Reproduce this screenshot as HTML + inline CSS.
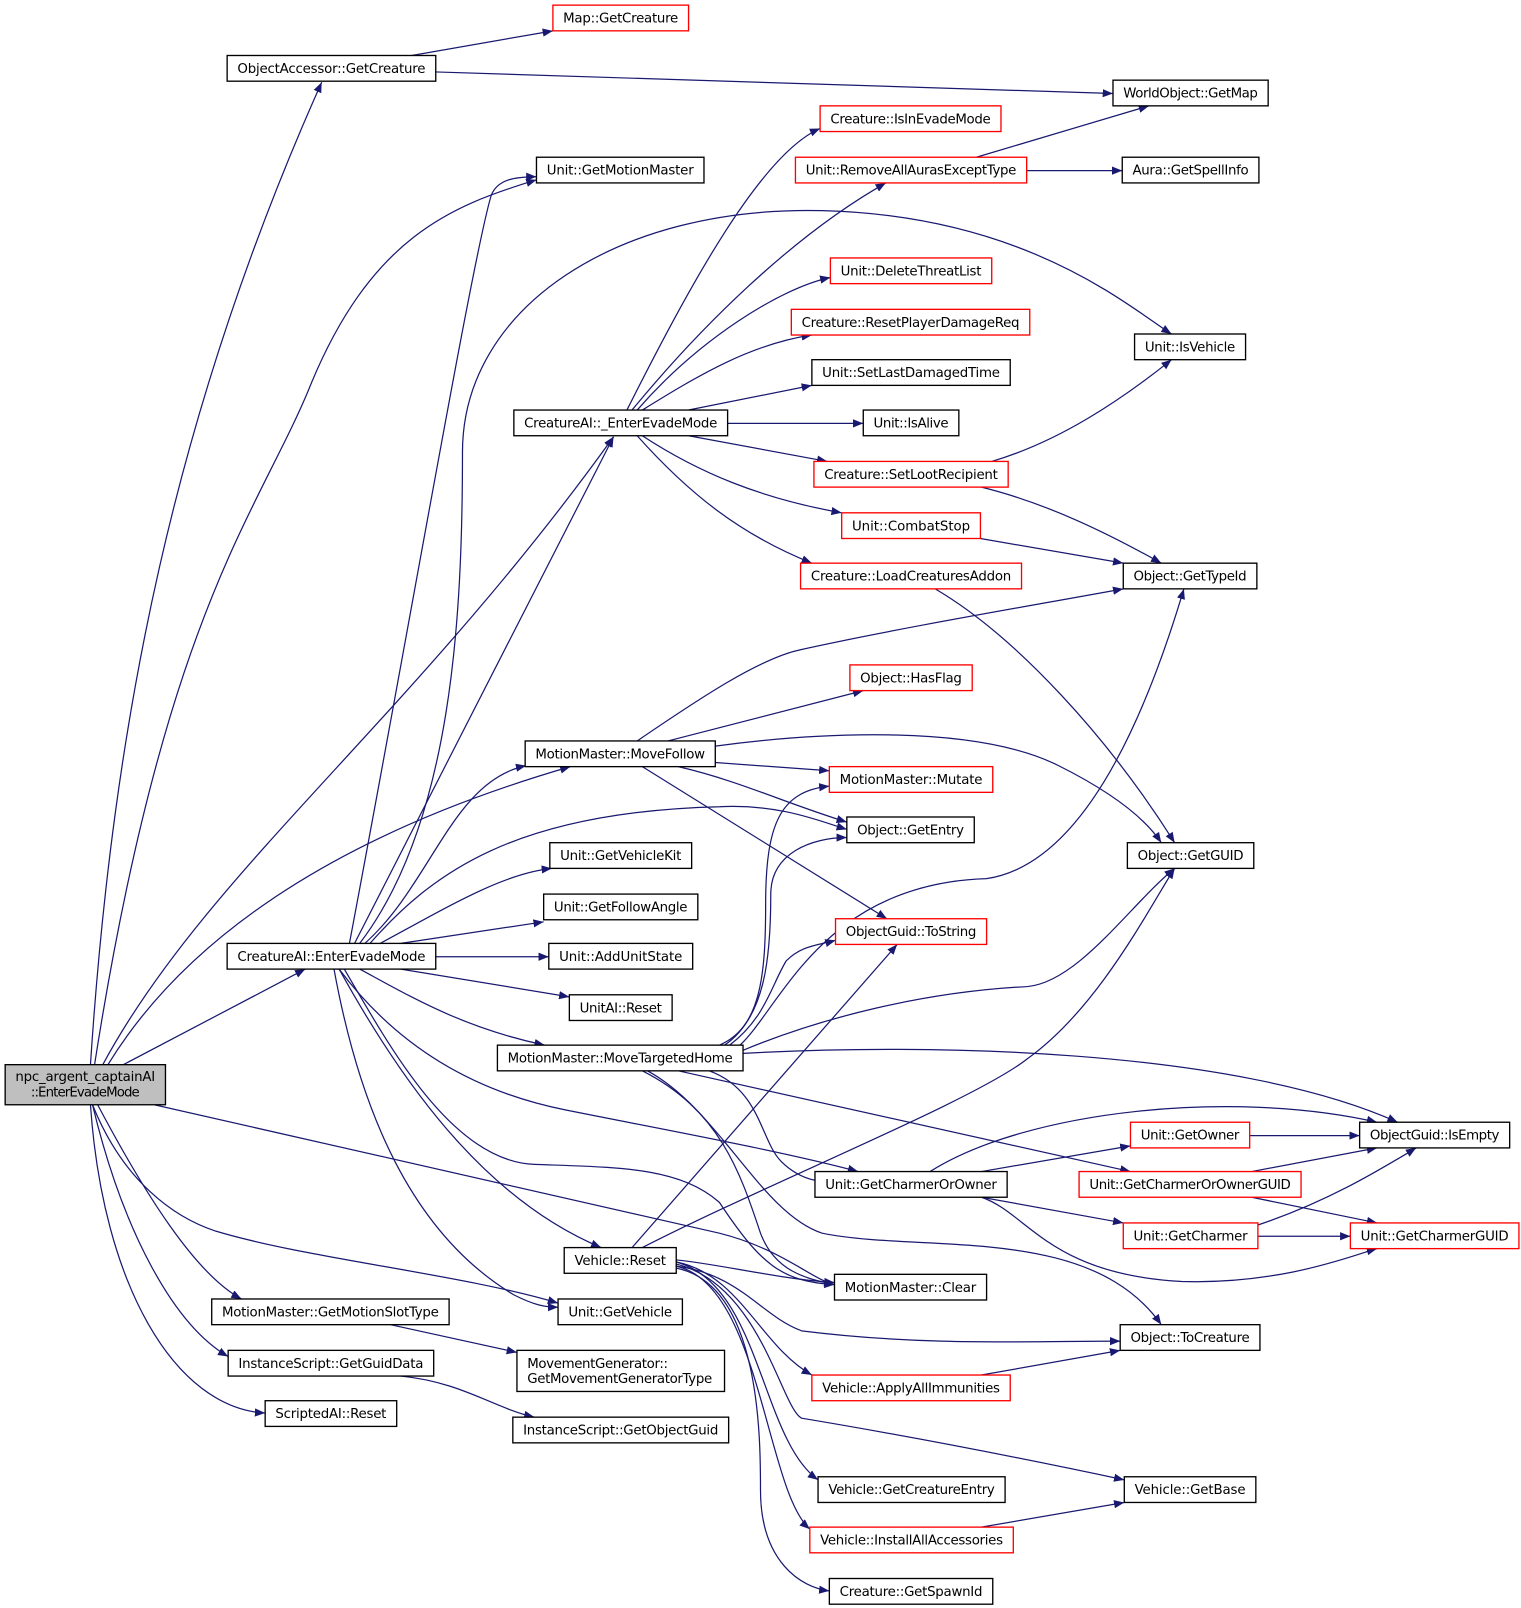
<!DOCTYPE html>
<html><head><meta charset="utf-8"><style>html,body{margin:0;padding:0;background:#fff}svg{display:block}</style></head>
<body>
<svg width="1521" height="1608" viewBox="0 0 1480 1564.7" xmlns="http://www.w3.org/2000/svg" font-family="'DejaVu Sans','Liberation Sans',sans-serif" font-size="13">
<defs><marker id="a" viewBox="0 0 10 10" refX="10" refY="5" markerWidth="10" markerHeight="10" markerUnits="userSpaceOnUse" orient="auto"><path d="M0,1 L10,5 L0,9 z" fill="#191970"/></marker></defs>
<g fill="none" stroke="#191970" stroke-width="1.2" marker-end="url(#a)">
<path d="M395,55 L538,30"/>
<path d="M424,70 L1083,91"/>
<path d="M88,1036 C110,700 170,400 313,80"/>
<path d="M92,1036 C160,600 250,500 300,380 C360,230 440,200 522,175"/>
<path d="M100,1036 C200,850 400,700 597,425"/>
<path d="M105,1036 C170,930 300,820 555,746"/>
<path d="M120,1036 L297,943"/>
<path d="M150,1075 L700,1200 C760,1215 790,1245 812,1250"/>
<path d="M90,1075 C120,1150 170,1185 210,1198 C300,1225 450,1240 543,1268"/>
<path d="M95,1075 C140,1160 190,1240 235,1264"/>
<path d="M90,1075 C120,1200 170,1290 222,1320"/>
<path d="M88,1075 C100,1250 170,1370 258,1375"/>
<path d="M340,918 C400,600 460,250 478,190 C484,175 500,172 522,172"/>
<path d="M345,918 L597,425"/>
<path d="M350,918 C440,800 450,600 450,440 C450,300 600,200 800,205 C1000,210 1100,300 1140,325"/>
<path d="M355,918 C420,860 440,760 512,745"/>
<path d="M360,918 C420,850 500,790 700,785 C760,782 800,800 824,807"/>
<path d="M370,918 C440,880 490,850 537,845"/>
<path d="M390,918 L529,897"/>
<path d="M424,931 L534,931"/>
<path d="M390,943 L554,970"/>
<path d="M350,943 C400,970 450,1000 530,1017"/>
<path d="M330,943 C380,1010 450,1060 550,1080 C650,1100 760,1120 835,1140"/>
<path d="M335,943 C380,1020 440,1130 520,1133 C600,1136 660,1135 700,1170 C740,1230 760,1247 812,1250"/>
<path d="M330,943 C400,1070 480,1170 585,1214"/>
<path d="M325,943 C350,1080 400,1200 500,1260 C520,1270 530,1272 543,1272"/>
<path d="M610,399 C670,280 740,150 798,125"/>
<path d="M615,399 C680,320 770,230 862,178"/>
<path d="M620,399 C680,330 760,280 808,270"/>
<path d="M625,399 C680,365 730,335 790,326"/>
<path d="M670,399 L790,375"/>
<path d="M708,412 L840,412"/>
<path d="M670,424 L805,449"/>
<path d="M625,424 C680,460 740,485 819,499"/>
<path d="M620,424 C670,480 720,520 790,548"/>
<path d="M950,153 L1118,103"/>
<path d="M999,166 L1092,166"/>
<path d="M965,449 C1030,430 1090,390 1140,350"/>
<path d="M955,474 C1020,490 1080,520 1130,548"/>
<path d="M954,524 L1093,548"/>
<path d="M910,573 C990,620 1080,720 1143,820"/>
<path d="M620,721 C680,680 740,640 780,632 C880,610 1000,590 1093,573"/>
<path d="M650,721 L840,672"/>
<path d="M696,726 C800,712 950,705 1030,745 C1070,765 1110,790 1130,820"/>
<path d="M696,742 L807,750"/>
<path d="M660,746 C720,760 760,780 824,800"/>
<path d="M625,746 L863,894"/>
<path d="M700,1017 C740,1000 745,950 745,880 C745,800 760,770 807,765"/>
<path d="M705,1017 C745,990 750,930 750,870 C750,830 790,815 824,815"/>
<path d="M710,1017 C745,990 750,960 765,935 C780,920 795,920 813,915"/>
<path d="M720,1017 C760,980 800,860 960,855 C1060,840 1120,680 1152,573"/>
<path d="M723,1022 C800,990 900,965 1000,960 C1050,955 1100,880 1143,845"/>
<path d="M723,1025 C900,1015 1200,1020 1360,1092"/>
<path d="M660,1042 L1100,1140"/>
<path d="M690,1042 C740,1060 740,1110 760,1130 C780,1150 800,1152 835,1150"/>
<path d="M625,1042 C700,1080 720,1140 740,1200 C755,1240 790,1245 812,1250"/>
<path d="M630,1042 C700,1080 740,1180 800,1200 C900,1220 1060,1190 1130,1289"/>
<path d="M615,1214 L873,919"/>
<path d="M625,1214 C750,1150 950,1070 1000,1030 C1070,980 1120,880 1143,845"/>
<path d="M658,1232 C720,1240 740,1280 780,1295 C900,1310 1000,1305 1090,1305"/>
<path d="M658,1226 C700,1230 760,1245 812,1248"/>
<path d="M658,1228 C720,1240 740,1310 790,1338"/>
<path d="M658,1228 C740,1250 740,1400 796,1440"/>
<path d="M658,1230 C740,1250 760,1370 780,1380 C900,1400 1000,1420 1094,1440"/>
<path d="M658,1232 C740,1250 745,1450 788,1488"/>
<path d="M658,1234 C740,1250 740,1400 740,1450 C740,1520 780,1545 807,1548"/>
<path d="M905,1140 C1000,1080 1200,1060 1340,1092"/>
<path d="M955,1140 L1100,1115"/>
<path d="M955,1165 L1093,1190"/>
<path d="M955,1165 C1000,1180 1020,1240 1150,1247 C1250,1250 1320,1220 1340,1215"/>
<path d="M1216,1105 L1323,1105"/>
<path d="M1218,1140 L1340,1117"/>
<path d="M1218,1165 L1340,1190"/>
<path d="M1224,1192 C1290,1170 1340,1140 1378,1117"/>
<path d="M1224,1203 L1314,1203"/>
<path d="M955,1338 L1090,1314"/>
<path d="M955,1486 L1094,1462"/>
<path d="M380,1289 L503,1316"/>
<path d="M390,1339 C450,1345 480,1370 520,1379"/>
</g>
<g stroke-width="1.3">
<g fill="#fff" stroke="#000">
<rect x="221" y="54" width="203" height="25"/>
<rect x="1083" y="78" width="151" height="25"/>
<rect x="522" y="153" width="163" height="25"/>
<rect x="1092" y="153" width="133" height="25"/>
<rect x="1104" y="325" width="108" height="25"/>
<rect x="790" y="350" width="193" height="25"/>
<rect x="500" y="399" width="208" height="25"/>
<rect x="840" y="399" width="93" height="25"/>
<rect x="1093" y="548" width="130" height="25"/>
<rect x="511" y="721" width="185" height="25"/>
<rect x="824" y="795" width="124" height="25"/>
<rect x="535" y="820" width="138" height="25"/>
<rect x="1097" y="820" width="123" height="25"/>
<rect x="529" y="870" width="150" height="25"/>
<rect x="221" y="918" width="203" height="25"/>
<rect x="534" y="918" width="140" height="25"/>
<rect x="554" y="968" width="100" height="25"/>
<rect x="484" y="1017" width="239" height="25"/>
<rect x="1323" y="1092" width="146" height="25"/>
<rect x="793" y="1140" width="187" height="25"/>
<rect x="549" y="1214" width="109" height="25"/>
<rect x="812" y="1240" width="148" height="25"/>
<rect x="206" y="1264" width="231" height="25"/>
<rect x="543" y="1264" width="121" height="25"/>
<rect x="1090" y="1289" width="136" height="25"/>
<rect x="222" y="1314" width="200" height="25"/>
<rect x="503" y="1314" width="202" height="40"/>
<rect x="258" y="1363" width="128" height="25"/>
<rect x="499" y="1379" width="210" height="25"/>
<rect x="796" y="1437" width="182" height="25"/>
<rect x="1094" y="1437" width="128" height="25"/>
<rect x="807" y="1536" width="159" height="25"/>
</g>
<g fill="#fff" stroke="#f00">
<rect x="538" y="5" width="132" height="25"/>
<rect x="798" y="103" width="176" height="25"/>
<rect x="774" y="153" width="225" height="25"/>
<rect x="808" y="251" width="157" height="25"/>
<rect x="770" y="301" width="232" height="25"/>
<rect x="792" y="449" width="189" height="25"/>
<rect x="819" y="499" width="135" height="25"/>
<rect x="779" y="548" width="215" height="25"/>
<rect x="827" y="647" width="119" height="25"/>
<rect x="807" y="746" width="159" height="25"/>
<rect x="813" y="894" width="147" height="25"/>
<rect x="1100" y="1092" width="116" height="25"/>
<rect x="1050" y="1140" width="216" height="25"/>
<rect x="1093" y="1190" width="131" height="25"/>
<rect x="1314" y="1190" width="164" height="25"/>
<rect x="790" y="1338" width="193" height="25"/>
<rect x="788" y="1486" width="198" height="25"/>
</g>
<rect x="5" y="1036" width="156" height="39" fill="#bfbfbf" stroke="#000"/>
</g>
<g fill="#000" text-anchor="middle" lengthAdjust="spacingAndGlyphs">
<text x="604" y="22" textLength="112">Map::GetCreature</text>
<text x="322.5" y="71" textLength="183">ObjectAccessor::GetCreature</text>
<text x="1158.5" y="95" textLength="131">WorldObject::GetMap</text>
<text x="886" y="120" textLength="156">Creature::IsInEvadeMode</text>
<text x="603.5" y="170" textLength="143">Unit::GetMotionMaster</text>
<text x="886.5" y="170" textLength="205">Unit::RemoveAllAurasExceptType</text>
<text x="1158.5" y="170" textLength="113">Aura::GetSpellInfo</text>
<text x="886.5" y="268" textLength="137">Unit::DeleteThreatList</text>
<text x="886" y="318" textLength="212">Creature::ResetPlayerDamageReq</text>
<text x="1158" y="342" textLength="88">Unit::IsVehicle</text>
<text x="886.5" y="367" textLength="173">Unit::SetLastDamagedTime</text>
<text x="604" y="416" textLength="188">CreatureAI::_EnterEvadeMode</text>
<text x="886.5" y="416" textLength="73">Unit::IsAlive</text>
<text x="886.5" y="466" textLength="169">Creature::SetLootRecipient</text>
<text x="886.5" y="516" textLength="115">Unit::CombatStop</text>
<text x="1158" y="565" textLength="110">Object::GetTypeId</text>
<text x="886.5" y="565" textLength="195">Creature::LoadCreaturesAddon</text>
<text x="886.5" y="664" textLength="99">Object::HasFlag</text>
<text x="603.5" y="738" textLength="165">MotionMaster::MoveFollow</text>
<text x="886.5" y="763" textLength="139">MotionMaster::Mutate</text>
<text x="886" y="812" textLength="104">Object::GetEntry</text>
<text x="604" y="837" textLength="118">Unit::GetVehicleKit</text>
<text x="1158.5" y="837" textLength="103">Object::GetGUID</text>
<text x="604" y="887" textLength="130">Unit::GetFollowAngle</text>
<text x="886.5" y="911" textLength="127">ObjectGuid::ToString</text>
<text x="322.5" y="935" textLength="183">CreatureAI::EnterEvadeMode</text>
<text x="604" y="935" textLength="120">Unit::AddUnitState</text>
<text x="604" y="985" textLength="80">UnitAI::Reset</text>
<text x="603.5" y="1034" textLength="219">MotionMaster::MoveTargetedHome</text>
<text x="83" y="1052" textLength="136">npc_argent_captainAI</text>
<text x="83" y="1067" textLength="106">::EnterEvadeMode</text>
<text x="1396" y="1109" textLength="126">ObjectGuid::IsEmpty</text>
<text x="1158" y="1109" textLength="96">Unit::GetOwner</text>
<text x="886.5" y="1157" textLength="167">Unit::GetCharmerOrOwner</text>
<text x="1158" y="1157" textLength="196">Unit::GetCharmerOrOwnerGUID</text>
<text x="1158.5" y="1207" textLength="111">Unit::GetCharmer</text>
<text x="1396" y="1207" textLength="144">Unit::GetCharmerGUID</text>
<text x="603.5" y="1231" textLength="89">Vehicle::Reset</text>
<text x="886" y="1257" textLength="128">MotionMaster::Clear</text>
<text x="321.5" y="1281" textLength="211">MotionMaster::GetMotionSlotType</text>
<text x="603.5" y="1281" textLength="101">Unit::GetVehicle</text>
<text x="1158" y="1306" textLength="116">Object::ToCreature</text>
<text x="322" y="1331" textLength="180">InstanceScript::GetGuidData</text>
<text x="513" y="1331" text-anchor="start" textLength="137">MovementGenerator::</text>
<text x="513" y="1346" text-anchor="start" textLength="180">GetMovementGeneratorType</text>
<text x="886.5" y="1355" textLength="173">Vehicle::ApplyAllImmunities</text>
<text x="322" y="1380" textLength="108">ScriptedAI::Reset</text>
<text x="604" y="1396" textLength="190">InstanceScript::GetObjectGuid</text>
<text x="887" y="1454" textLength="162">Vehicle::GetCreatureEntry</text>
<text x="1158" y="1454" textLength="108">Vehicle::GetBase</text>
<text x="887" y="1503" textLength="178">Vehicle::InstallAllAccessories</text>
<text x="886.5" y="1553" textLength="139">Creature::GetSpawnId</text>
</g>
</svg>
</body></html>
